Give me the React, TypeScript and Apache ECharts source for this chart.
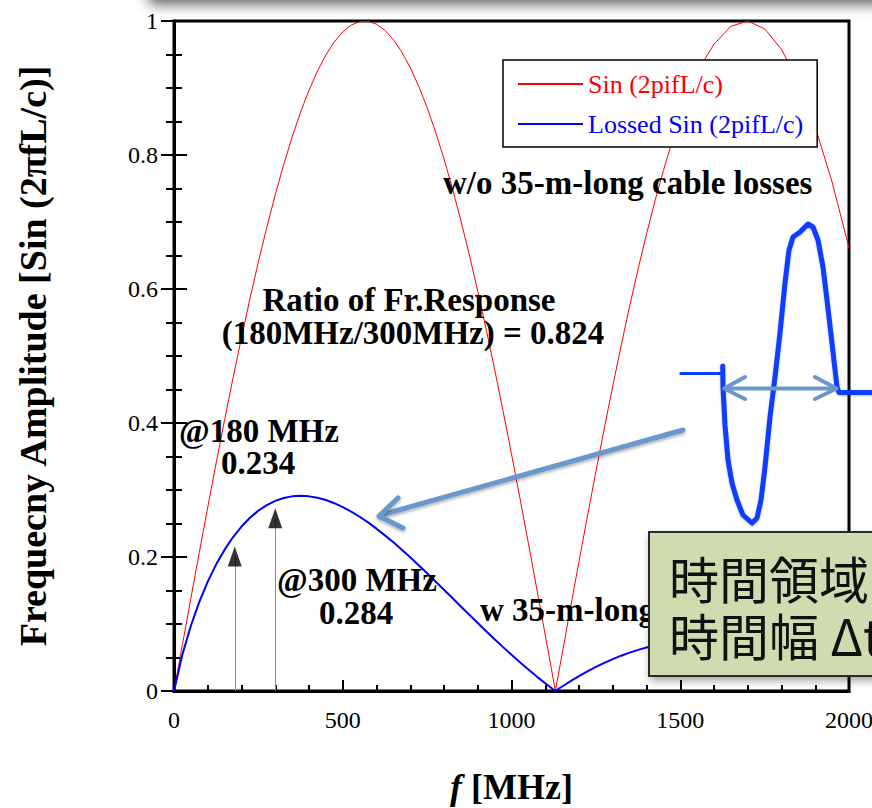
import React, { useEffect, useRef } from "react";
import * as echarts from "echarts";

const freqMHz = [
  0, 25, 50, 75, 100, 125, 150, 175, 200, 225, 250, 275, 300, 325, 350, 375, 400, 425, 450, 475,
  500, 525, 550, 575, 600, 625, 650, 675, 700, 725, 750, 775, 800, 825, 850, 875, 900, 925, 950, 975,
  1000, 1025, 1050, 1075, 1100, 1125, 1130,
  1150, 1175, 1200, 1225, 1250, 1275, 1300, 1325, 1350, 1375, 1400, 1425, 1450, 1475, 1500, 1525, 1550, 1575, 1600,
  1650, 1700, 1750, 1800, 1850, 1900, 1950, 2000,
];

const sinValues = [
  0, 0.0695, 0.1386, 0.207, 0.2744, 0.3406, 0.405, 0.4676, 0.5278, 0.5855, 0.6404, 0.6922, 0.7407, 0.7857, 0.8268, 0.8639, 0.8967, 0.9252, 0.9493, 0.9689,
  0.9837, 0.9938, 0.9991, 0.9996, 0.9953, 0.9861, 0.9722, 0.9536, 0.9304, 0.9027, 0.8707, 0.8344, 0.7941, 0.7499, 0.7021, 0.651, 0.5967, 0.5396, 0.48, 0.4177,
  0.3536, 0.2878, 0.2206, 0.1523, 0.0833, 0.0139, 0,
  0.0556, 0.1248, 0.1934, 0.261, 0.3274, 0.3923, 0.4554, 0.5161, 0.5743, 0.6297, 0.6821, 0.7312, 0.7768, 0.8187, 0.8566, 0.8903, 0.9198, 0.9449, 0.9653,
  0.9922, 0.9999, 0.9883, 0.9577, 0.9085, 0.8419, 0.7593, 0.6614,
];

const lossedValues = [
  0, 0.0547, 0.0974, 0.1329, 0.1632, 0.189, 0.211, 0.2298, 0.2455, 0.2586, 0.2692, 0.2774, 0.2837, 0.288, 0.2905, 0.2914, 0.2905, 0.2884, 0.285, 0.2803,
  0.2745, 0.2677, 0.2601, 0.2516, 0.2423, 0.2323, 0.2219, 0.2108, 0.1995, 0.1878, 0.1757, 0.1635, 0.1511, 0.1387, 0.1262, 0.1138, 0.1015, 0.0893, 0.0773, 0.0655,
  0.054, 0.0428, 0.032, 0.0215, 0.0115, 0.0019, 0,
  0.0067, 0.0147, 0.0223, 0.0293, 0.0359, 0.042, 0.0476, 0.0527, 0.0573, 0.0614, 0.065, 0.0682, 0.0708, 0.073, 0.0747, 0.0759, 0.0767, 0.0772, 0.0772,
  0.0761, 0.0736, 0.0697, 0.065, 0.0592, 0.0526, 0.0457, 0.0383,
];

const arrowFreqs = [180, 300];
const arrowHeadCenters = [0.2007, 0.258];

const xTickLabels = ["0", "500", "1000", "1500", "2000"];
const yTickLabels = ["0", "0.2", "0.4", "0.6", "0.8", "1"];

const SERIF = "'Liberation Serif', 'Times New Roman', serif";
const CJK = "'Noto Sans CJK JP', 'Noto Sans', sans-serif";
const ARROW_BLUE = "#6a98cc";
const WAVE_BLUE = "#0b3cff";

function boldText(text: string, x: number, y: number, align = "left") {
  return {
    type: "text",
    x,
    y,
    z: 20,
    silent: true,
    style: {
      text,
      font: `bold 33px ${SERIF}`,
      fill: "#000",
      textAlign: align,
      align,
      textVerticalAlign: "middle",
      verticalAlign: "middle",
    },
  };
}

export default function App() {
  const ref = useRef<HTMLDivElement>(null);

  useEffect(() => {
    if (!ref.current) return;
    const chart = echarts.init(ref.current, undefined, { renderer: "svg" });

    const sinData = freqMHz.map((f, i) => [f, sinValues[i]]);
    const lossedData = freqMHz.map((f, i) => [f, lossedValues[i]]);

    const axisLine = { show: true, lineStyle: { color: "#000", width: 3 } };

    const option: any = {
      animation: false,
      backgroundColor: "#fff",
      grid: {
        left: 174,
        right: 23,
        top: 21,
        bottom: 117,
        containLabel: false,
        outerBoundsMode: "none",
        show: true,
        borderColor: "#000",
        borderWidth: 3,
        backgroundColor: "transparent",
      },
      legend: {
        left: 503,
        top: 60,
        orient: "vertical",
        backgroundColor: "#fff",
        borderColor: "#000",
        borderWidth: 1.5,
        borderRadius: 0,
        padding: [10, 14, 9, 15],
        itemGap: 12,
        itemWidth: 65,
        itemHeight: 2,
        icon: "rect",
        textStyle: { fontFamily: SERIF, fontSize: 26, lineHeight: 28 },
        data: [
          { name: "Sin (2pifL/c)", textStyle: { color: "#ff0000" } },
          { name: "Lossed Sin (2pifL/c)", textStyle: { color: "#0000ff" } },
        ],
      },
      xAxis: [
        {
          type: "value",
          min: 0,
          max: 2000,
          interval: 500,
          position: "bottom",
          name: "{i|f}{b| [MHz]}",
          nameLocation: "middle",
          nameGap: 78,
          nameTextStyle: {
            rich: {
              i: { fontFamily: SERIF, fontSize: 36, fontStyle: "italic", fontWeight: "bold", color: "#000" },
              b: { fontFamily: SERIF, fontSize: 36, fontWeight: "bold", color: "#000" },
            },
          },
          axisLine,
          axisTick: { show: true, inside: true, length: 11, lineStyle: { color: "#000", width: 2 } },
          minorTick: { show: true, splitNumber: 5, length: 6, lineStyle: { color: "#000", width: 2 } },
          splitLine: { show: false },
          axisLabel: {
            margin: 17,
            fontFamily: SERIF,
            fontSize: 24,
            color: "#000",
            formatter: (v: number) => xTickLabels[Math.round(v / 500)] ?? "",
          },
        },
        {
          type: "value",
          min: 0,
          max: 2000,
          interval: 500,
          position: "top",
          axisLine,
          axisTick: { show: false },
          axisLabel: { show: false },
          splitLine: { show: false },
        },
      ],
      yAxis: [
        {
          type: "value",
          min: 0,
          max: 1,
          interval: 0.2,
          position: "left",
          name: "Frequecny Amplitude [Sin (2πfL/c)]",
          nameLocation: "middle",
          nameGap: 122,
          nameTextStyle: { fontFamily: SERIF, fontSize: 38, fontWeight: "bold", color: "#000" },
          axisLine,
          axisTick: { show: true, inside: true, length: 13, lineStyle: { color: "#000", width: 2 } },
          minorTick: { show: true, splitNumber: 4, length: 8, lineStyle: { color: "#000", width: 2 } },
          splitLine: { show: false },
          axisLabel: {
            margin: 16,
            fontFamily: SERIF,
            fontSize: 24,
            color: "#000",
            formatter: (v: number) => yTickLabels[Math.round(v / 0.2)] ?? "",
          },
        },
        {
          type: "value",
          min: 0,
          max: 1,
          interval: 0.2,
          position: "right",
          axisLine,
          axisTick: { show: true, inside: true, length: 13, lineStyle: { color: "#000", width: 2 } },
          minorTick: { show: true, splitNumber: 4, length: 8, lineStyle: { color: "#000", width: 2 } },
          splitLine: { show: false },
          axisLabel: { show: false },
        },
      ],
      series: [
        {
          name: "Sin (2pifL/c)",
          type: "line",
          data: sinData,
          symbol: "none",
          smooth: false,
          lineStyle: { color: "#ff0000", width: 1 },
          itemStyle: { color: "#ff0000" },
          z: 3,
        },
        {
          name: "Lossed Sin (2pifL/c)",
          type: "line",
          data: lossedData,
          symbol: "none",
          smooth: false,
          lineStyle: { color: "#0000ff", width: 2 },
          itemStyle: { color: "#0000ff" },
          z: 4,
          markLine: {
            silent: true,
            symbol: ["none", "none"],
            label: { show: false },
            lineStyle: { color: "#8a8a8a", width: 1, type: "solid" },
            data: arrowFreqs.map((f, i) => [
              { coord: [f, 0] },
              { coord: [f, arrowHeadCenters[i]] },
            ]),
          },
        },
        {
          name: "arrowheads",
          type: "scatter",
          silent: true,
          symbol: "triangle",
          symbolSize: [14, 20],
          itemStyle: { color: "#000" },
          data: arrowFreqs.map((f, i) => [f, arrowHeadCenters[i]]),
          z: 5,
        },
      ],
      graphic: [
        {
          type: "rect",
          shape: { x: 148, y: -40, width: 760, height: 40, r: 6 },
          style: { fill: "#fff", shadowBlur: 14, shadowColor: "rgba(0,0,0,0.65)", shadowOffsetY: 4 },
          z: 30,
          silent: true,
        },
        boldText("w/o 35-m-long cable losses", 443, 183),
        boldText("Ratio of Fr.Response", 409, 300, "center"),
        boldText("(180MHz/300MHz) = 0.824", 413, 333, "center"),
        boldText("@180 MHz", 179, 431),
        boldText("0.234", 221, 463),
        boldText("@300 MHz", 277, 580),
        boldText("0.284", 319, 613),
        boldText("w 35-m-long cable losses", 480, 610),
        {
          type: "line",
          z: 25,
          silent: true,
          shape: { x1: 683, y1: 430, x2: 381, y2: 515 },
          style: { stroke: ARROW_BLUE, lineWidth: 5, lineCap: "round", shadowBlur: 3, shadowColor: "rgba(0,0,0,0.3)", shadowOffsetY: 2 },
        },
        {
          type: "polyline",
          z: 25,
          silent: true,
          shape: { points: [[398, 498], [379, 516], [403, 528]] },
          style: { stroke: ARROW_BLUE, fill: "none", lineWidth: 5, lineCap: "round", lineJoin: "round", shadowBlur: 3, shadowColor: "rgba(0,0,0,0.3)", shadowOffsetY: 2 },
        },
        {
          type: "polyline",
          z: 26,
          silent: true,
          shape: { points: [[682, 373], [719, 374]] },
          style: { stroke: WAVE_BLUE, fill: "none", lineWidth: 5, lineCap: "round", shadowBlur: 2, shadowColor: "rgba(0,0,0,0.25)", shadowOffsetY: 1 },
        },
        {
          type: "polyline",
          z: 26,
          silent: true,
          shape: {
            points: [
              [722.7, 366], [723, 387], [725, 425], [728, 460], [732, 483], [737, 500], [743, 515], [752, 523],
              [757, 518], [761, 500], [765, 467], [770, 417], [775, 377], [780, 333], [785, 283], [789, 250],
              [793, 237], [800, 232], [808, 224], [813, 227], [818, 240], [823, 267], [827, 300], [832, 343],
              [837, 387], [839, 392.5], [872, 392.5],
            ],
          },
          style: { stroke: WAVE_BLUE, fill: "none", lineWidth: 5, lineCap: "round", lineJoin: "round", shadowBlur: 2, shadowColor: "rgba(0,0,0,0.25)", shadowOffsetY: 1 },
        },
        {
          type: "line",
          z: 27,
          silent: true,
          shape: { x1: 726, y1: 388.5, x2: 835, y2: 388.5 },
          style: { stroke: ARROW_BLUE, lineWidth: 4, lineCap: "round" },
        },
        {
          type: "polyline",
          z: 27,
          silent: true,
          shape: { points: [[745, 377], [724, 388.5], [745, 399]] },
          style: { stroke: ARROW_BLUE, fill: "none", lineWidth: 4, lineCap: "round", lineJoin: "round" },
        },
        {
          type: "polyline",
          z: 27,
          silent: true,
          shape: { points: [[815, 377], [836.5, 388.5], [815, 399]] },
          style: { stroke: ARROW_BLUE, fill: "none", lineWidth: 4, lineCap: "round", lineJoin: "round" },
        },
        {
          type: "rect",
          z: 28,
          silent: true,
          shape: { x: 649, y: 532, width: 260, height: 144 },
          style: { fill: "#cfdcb0", stroke: "#2a2a2a", lineWidth: 2, shadowBlur: 8, shadowColor: "rgba(0,0,0,0.35)", shadowOffsetX: 2, shadowOffsetY: 4 },
        },
        {
          type: "text",
          z: 29,
          silent: true,
          x: 669,
          y: 577,
          style: { text: "時間領域", font: `50px ${CJK}`, fill: "#111", textAlign: "left", align: "left", textVerticalAlign: "middle", verticalAlign: "middle" },
        },
        {
          type: "text",
          z: 29,
          silent: true,
          x: 669,
          y: 634,
          style: { text: "時間幅 Δt", font: `50px ${CJK}`, fill: "#111", textAlign: "left", align: "left", textVerticalAlign: "middle", verticalAlign: "middle" },
        },
      ],
    };

    chart.setOption(option);
    return () => chart.dispose();
  }, []);

  return (
    <div
      ref={ref}
      style={{ position: "absolute", left: 0, top: 0, width: 872, height: 808, background: "#fff" }}
    />
  );
}
